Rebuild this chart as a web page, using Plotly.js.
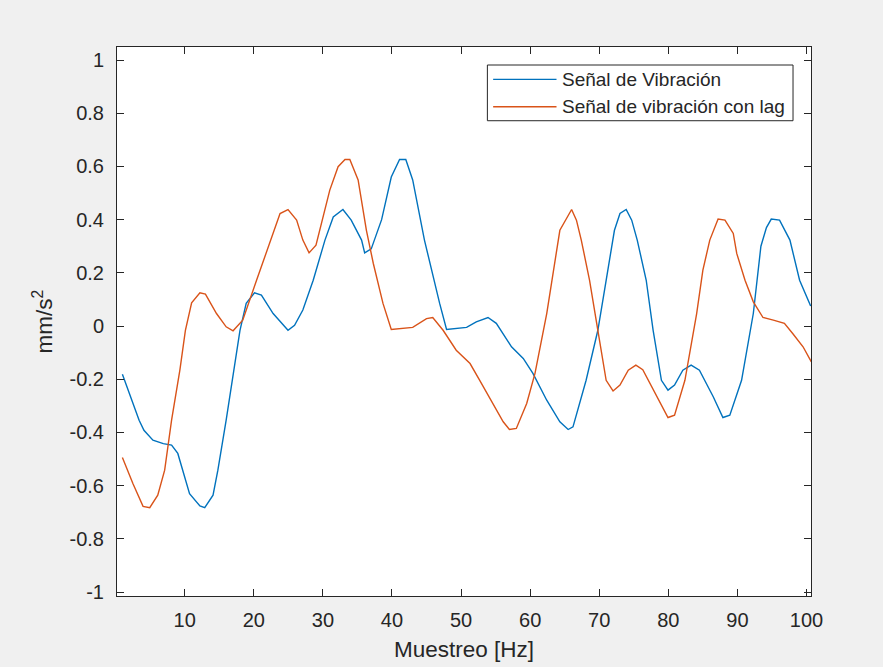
<!DOCTYPE html>
<html>
<head>
<meta charset="utf-8">
<script src="https://cdn.plot.ly/plotly-3.0.1.min.js"></script>
<style>html,body{margin:0;padding:0;background:#f0f0f0;}#chart{width:883px;height:667px;}</style>
</head>
<body>
<div id="chart"></div>
<script>
// Series names
const seriesNames = ["Señal de Vibración", "Señal de vibración con lag"];

// Señal de Vibración
const vibX = [0.98, 3.4, 4.1, 5.4, 6.9, 8.1, 9.0, 10.7, 12.2, 12.9, 14.1, 14.8, 16.0, 18.0, 18.9, 20.1, 21.1, 22.8, 24.95, 25.9, 27.1, 28.6, 30.3, 31.5, 32.9, 34.1, 35.6, 36.05, 37.0, 38.5, 39.9, 41.1, 42.0, 43.0, 44.7, 45.5, 46.9, 47.9, 50.8, 52.2, 53.9, 55.1, 57.3, 59.0, 60.4, 62.4, 64.3, 65.5, 66.2, 68.1, 69.8, 71.0, 72.2, 73.0, 73.9, 74.7, 75.5, 76.8, 77.8, 79.0, 79.95, 80.9, 82.1, 83.3, 84.5, 86.5, 87.9, 88.9, 90.6, 92.3, 93.4, 94.2, 94.9, 96.1, 97.6, 99.0, 100.6];
const vibY = [-0.181, -0.354, -0.392, -0.429, -0.442, -0.448, -0.479, -0.63, -0.676, -0.683, -0.636, -0.542, -0.354, -0.016, 0.085, 0.125, 0.116, 0.047, -0.016, 0.003, 0.06, 0.172, 0.323, 0.41, 0.438, 0.398, 0.323, 0.275, 0.29, 0.40, 0.56, 0.626, 0.626, 0.549, 0.323, 0.235, 0.085, -0.013, -0.005, 0.016, 0.032, 0.01, -0.078, -0.122, -0.178, -0.279, -0.36, -0.389, -0.379, -0.204, -0.016, 0.172, 0.36, 0.423, 0.438, 0.398, 0.323, 0.172, -0.016, -0.204, -0.241, -0.222, -0.166, -0.147, -0.166, -0.266, -0.344, -0.335, -0.204, 0.047, 0.30, 0.37, 0.402, 0.398, 0.323, 0.172, 0.075];

// Señal de vibración con lag
const lagX = [0.98, 2.5, 3.97, 4.94, 6.1, 7.1, 8.1, 9.3, 10.1, 11.0, 12.2, 13.0, 14.6, 16.0, 17.0, 18.4, 20.4, 22.3, 23.8, 24.95, 26.2, 27.1, 28.0, 29.0, 31.0, 32.2, 33.2, 33.9, 35.1, 36.3, 37.3, 38.7, 39.9, 43.0, 45.0, 45.9, 47.4, 49.3, 51.3, 52.7, 54.6, 56.1, 57.0, 58.0, 59.5, 60.7, 62.4, 64.3, 66.0, 66.7, 67.4, 68.6, 69.8, 71.0, 72.0, 73.0, 74.2, 75.3, 76.3, 78.3, 79.95, 80.9, 82.4, 84.1, 85.0, 86.0, 87.2, 88.2, 89.4, 89.9, 91.1, 92.3, 93.7, 95.2, 96.8, 98.0, 99.5, 100.7];
const lagY = [-0.494, -0.592, -0.678, -0.683, -0.636, -0.542, -0.354, -0.166, -0.016, 0.087, 0.125, 0.12, 0.047, -0.003, -0.018, 0.022, 0.172, 0.31, 0.423, 0.438, 0.398, 0.323, 0.275, 0.304, 0.511, 0.599, 0.626, 0.626, 0.549, 0.36, 0.235, 0.085, -0.013, -0.005, 0.028, 0.032, -0.016, -0.091, -0.141, -0.204, -0.291, -0.36, -0.389, -0.385, -0.291, -0.178, 0.047, 0.36, 0.438, 0.398, 0.323, 0.172, -0.016, -0.204, -0.244, -0.222, -0.166, -0.147, -0.164, -0.266, -0.344, -0.335, -0.204, 0.047, 0.21, 0.323, 0.402, 0.398, 0.348, 0.273, 0.172, 0.091, 0.032, 0.022, 0.01, -0.028, -0.078, -0.135];

// Tick labels
const xTickVals = [10, 20, 30, 40, 50, 60, 70, 80, 90, 100];
const xTickText = ["10", "20", "30", "40", "50", "60", "70", "80", "90", "100"];
const yTickVals = [-1, -0.8, -0.6, -0.4, -0.2, 0, 0.2, 0.4, 0.6, 0.8, 1];
const yTickText = ["-1", "-0.8", "-0.6", "-0.4", "-0.2", "0", "0.2", "0.4", "0.6", "0.8", "1"];

const colors = ["#0072BD", "#D95319"];
const FONT = "Liberation Sans, Arial, Helvetica, sans-serif";
const AX = "#262626";

const traces = [
  {x: vibX, y: vibY, name: seriesNames[0], type: "scatter", mode: "lines",
   line: {color: colors[0], width: 1.4}, showlegend: false, hoverinfo: "skip"},
  {x: lagX, y: lagY, name: seriesNames[1], type: "scatter", mode: "lines",
   line: {color: colors[1], width: 1.4}, showlegend: false, hoverinfo: "skip"}
];

// custom MATLAB-style legend (paper coordinates)
const lgX0 = 0.5337, lgX1 = 0.9741, lgY0 = 0.8657, lgY1 = 0.9672;
const rowY = [0.9411, 0.8912];
const shapes = [
  {type: "rect", xref: "paper", yref: "paper", x0: lgX0, x1: lgX1, y0: lgY0, y1: lgY1,
   line: {color: AX, width: 1}, fillcolor: "white", layer: "above"}
];
const annotations = [];
for (let i = 0; i < seriesNames.length; i++) {
  shapes.push({type: "line", xref: "paper", yref: "paper", x0: 0.5420, x1: 0.6333, y0: rowY[i], y1: rowY[i],
               line: {color: colors[i], width: 1.4}, layer: "above"});
  annotations.push({xref: "paper", yref: "paper", x: 0.6380, y: rowY[i], xanchor: "left", yanchor: "middle",
                    text: seriesNames[i], showarrow: false, font: {family: FONT, size: 19, color: AX}});
}

const layout = {
  width: 883, height: 667,
  paper_bgcolor: "#f0f0f0", plot_bgcolor: "#ffffff",
  margin: {l: 117, r: 72, t: 47, b: 71, pad: 0},
  font: {family: FONT, color: AX},
  xaxis: {
    range: [0.2, 100.65], tickmode: "array", tickvals: xTickVals, ticktext: xTickText,
    ticks: "inside", ticklen: 7, tickwidth: 1, tickcolor: AX,
    showline: true, linecolor: AX, linewidth: 1, mirror: "ticks",
    showgrid: false, zeroline: false,
    tickfont: {family: FONT, size: 20, color: AX}, ticklabelstandoff: 6,
    title: {text: "Muestreo [Hz]", font: {family: FONT, size: 22.5, color: AX}, standoff: 11}
  },
  yaxis: {
    range: [-1.015, 1.049], tickmode: "array", tickvals: yTickVals, ticktext: yTickText,
    ticks: "inside", ticklen: 7, tickwidth: 1, tickcolor: AX,
    showline: true, linecolor: AX, linewidth: 1, mirror: "ticks",
    showgrid: false, zeroline: false,
    tickfont: {family: FONT, size: 20, color: AX}, ticklabelstandoff: 8,
    title: {text: "mm/s<sup>2</sup>", font: {family: FONT, size: 22.5, color: AX}, standoff: 10}
  },
  shapes: shapes,
  annotations: annotations,
  showlegend: false
};

Plotly.newPlot("chart", traces, layout, {staticPlot: true, displayModeBar: false});
</script>
</body>
</html>
